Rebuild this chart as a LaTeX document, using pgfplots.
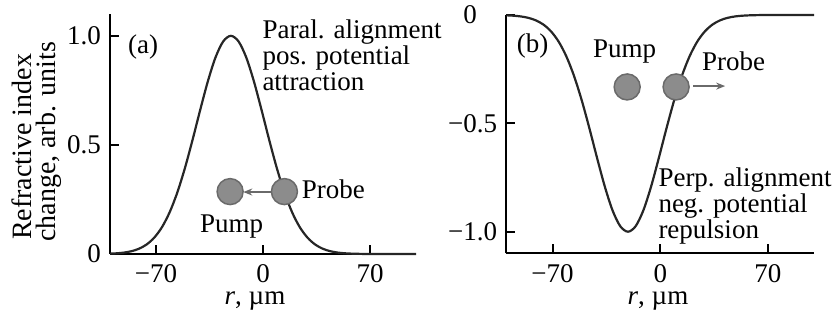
\documentclass[border=0pt]{standalone}
\usepackage{pgfplots}
\pgfplotsset{compat=1.18}
\usepackage{fontspec}
\setmainfont{Liberation Serif}
\usetikzlibrary{arrows.meta}
\definecolor{curve}{HTML}{262626}
\definecolor{ballfill}{HTML}{8C8C8C}
\definecolor{balldraw}{HTML}{6A6A6A}
\pgfplotstableread{
r v
-100 0.0016
-96 0.0030
-91 0.0063
-86 0.0127
-81 0.0243
-76 0.0439
-71 0.0756
-66 0.1234
-61 0.1915
-56 0.2821
-51 0.3946
-46 0.5243
-41 0.6615
-36 0.7926
-31 0.9018
-26 0.9745
-21 1.0000
-16 0.9745
-11 0.9018
-6 0.7926
-1 0.6615
4 0.5243
9 0.3946
14 0.2821
19 0.1915
24 0.1234
29 0.0756
34 0.0439
39 0.0243
44 0.0127
49 0.0063
54 0.0030
59 0.0013
64 0.0005
69 0.0002
79 0.0000
89 0.0000
100 0.0000
}\tablea
\pgfplotstableread{
r v
-100 -0.0016
-96 -0.0030
-91 -0.0063
-86 -0.0127
-81 -0.0243
-76 -0.0439
-71 -0.0756
-66 -0.1234
-61 -0.1915
-56 -0.2821
-51 -0.3946
-46 -0.5243
-41 -0.6615
-36 -0.7926
-31 -0.9018
-26 -0.9745
-21 -1.0000
-16 -0.9745
-11 -0.9018
-6 -0.7926
-1 -0.6615
4 -0.5243
9 -0.3946
14 -0.2821
19 -0.1915
24 -0.1234
29 -0.0756
34 -0.0439
39 -0.0243
44 -0.0127
49 -0.0063
54 -0.0030
59 -0.0013
64 -0.0005
69 -0.0002
79 0.0000
89 0.0000
100 0.0000
}\tableb
\pgfplotsset{
  common/.style={
    scale only axis,
    clip=false,
    xmin=-100, xmax=100,
    axis x line=bottom, axis y line=left,
    axis line style={-, line width=2pt, black},
    tick align=inside,
    major tick length=9pt,
    tick style={black, line width=2pt},
    xtick={-70,0,70},
    xticklabels={−70,0,70},
    xticklabel style={anchor=base, yshift=-29pt, inner sep=0pt},
    yticklabel style={anchor=east, inner sep=0pt, xshift=-9pt},
  }
}
\begin{document}
\fontsize{27pt}{26pt}\selectfont
\begin{tikzpicture}
\path[use as bounding box] (0pt,0pt) rectangle (835pt,320pt);
% panel (a)
\begin{axis}[common,
  at={(110pt,66pt)}, anchor=south west,
  width=306pt, height=240pt,
  ymin=0, ymax=1.1,
  ytick={0,0.5,1}, yticklabels={0,0.5,1.0},
]
\addplot[curve, line width=2.2pt, smooth] table[x=r,y=v] {\tablea};
\draw[balldraw, line width=1.5pt, -{Stealth[length=9pt,width=7pt]}] (5.7,0.284) -- (-12.9,0.284);
\addplot[only marks, mark=*, mark size=13pt, mark options={fill=ballfill, draw=balldraw, line width=1.5pt}] coordinates {(-21.5,0.286) (14.0,0.286)};
\end{axis}
% panel (b)
\begin{axis}[common,
  at={(506.4pt,66.6pt)}, anchor=south west,
  width=307.7pt, height=238.4pt,
  ymin=-1.1, ymax=0,
  ytick={-1,-0.5,0}, yticklabels={−1.0,−0.5,0\phantom{.0}},
]
\addplot[curve, line width=2.2pt, smooth] table[x=r,y=v] {\tableb};
\draw[balldraw, line width=1.5pt, -{Stealth[length=9pt,width=7pt]}] (21.3,-0.328) -- (42.2,-0.328);
\addplot[only marks, mark=*, mark size=13pt, mark options={fill=ballfill, draw=balldraw, line width=1.5pt}] coordinates {(-21.5,-0.332) (10.3,-0.332)};
\end{axis}
% y label
\node[rotate=90, anchor=base west, inner sep=0pt, font=\fontsize{28pt}{28pt}\selectfont] at (32pt,80pt) {Refractive index};
\node[rotate=90, anchor=base west, inner sep=0pt, font=\fontsize{28pt}{28pt}\selectfont] at (55pt,78pt) {change, arb. units};
% x labels
\node[anchor=base, inner sep=0pt] at (255pt,15pt) {\textit{r}, µm};
\node[anchor=base, inner sep=0pt] at (658pt,15pt) {\textit{r}, µm};
% annotations (a)
\node[anchor=base west, inner sep=0pt] at (128pt,266pt) {(a)};
\node[anchor=base west, inner sep=0pt] at (262.3pt,281pt) {Paral. alignment};
\node[anchor=base west, inner sep=0pt] at (262.3pt,255pt) {pos. potential};
\node[anchor=base west, inner sep=0pt] at (262.3pt,229pt) {attraction};
\node[anchor=base west, inner sep=0pt] at (301.7pt,121pt) {Probe};
\node[anchor=base west, inner sep=0pt] at (200pt,87pt) {Pump};
% annotations (b)
\node[anchor=base west, inner sep=0pt] at (516.7pt,267pt) {(b)};
\node[anchor=base west, inner sep=0pt] at (593pt,262pt) {Pump};
\node[anchor=base west, inner sep=0pt] at (702pt,249.3pt) {Probe};
\node[anchor=base west, inner sep=0pt] at (658.3pt,133.3pt) {Perp. alignment};
\node[anchor=base west, inner sep=0pt] at (658.3pt,107.3pt) {neg. potential};
\node[anchor=base west, inner sep=0pt] at (658.3pt,81.3pt) {repulsion};
\end{tikzpicture}
\end{document}
